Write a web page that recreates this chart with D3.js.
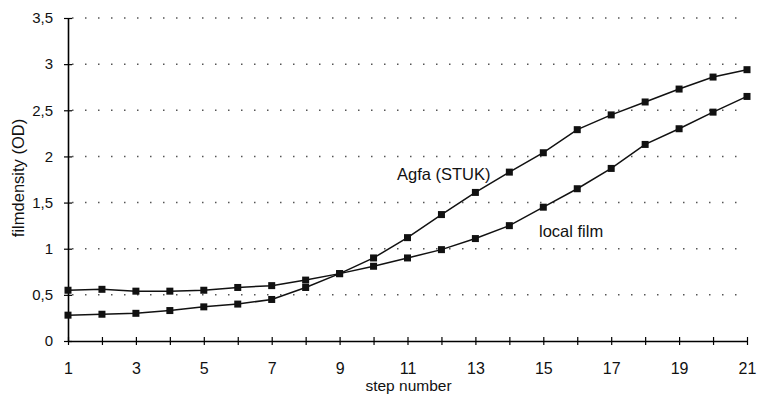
<!DOCTYPE html>
<html><head><meta charset="utf-8">
<script src="https://cdn.jsdelivr.net/npm/d3@7"></script>
<style>body{margin:0;background:#fff;}svg{display:block;font-family:Arial,"Liberation Sans",sans-serif;}</style>
</head><body>
<svg id="c" width="761" height="406"></svg>
<script>
const steps = d3.range(1, 22);
const agfa = [0.28,0.29,0.30,0.33,0.37,0.40,0.45,0.58,0.73,0.90,1.12,1.37,1.61,1.83,2.04,2.29,2.45,2.59,2.73,2.86,2.94];
const localFilm = [0.55,0.56,0.54,0.54,0.55,0.58,0.60,0.66,0.73,0.81,0.90,0.99,1.11,1.25,1.45,1.65,1.87,2.13,2.30,2.48,2.65];
const yTicks = [0,0.5,1,1.5,2,2.5,3,3.5];
const xTickLabels = [1,3,5,7,9,11,13,15,17,19,21];
const seriesNames = ["Agfa (STUK)","local film"];

const svg = d3.select("#c");
const m = {left:68, right:14, top:18, bottom:65};
const W = 761, H = 406;
const x = d3.scaleLinear().domain([1,21]).range([m.left, W - m.right]);
const y = d3.scaleLinear().domain([0,3.5]).range([H - m.bottom, m.top]);

// gridlines
svg.append("g").selectAll("line").data(yTicks.filter(d=>d>0)).join("line")
  .attr("x1", x(1)+4).attr("x2", x(21)).attr("y1", d=>y(d)).attr("y2", d=>y(d))
  .attr("stroke","#555").attr("stroke-width",1.5).attr("stroke-dasharray","1.5,11.5");

// y axis
const yAxis = d3.axisLeft(y).tickValues(yTicks).tickSize(0).tickPadding(15)
  .tickFormat(d=>String(d).replace(".",","));
const gy = svg.append("g").attr("transform",`translate(${x(1)},0)`).call(yAxis);
gy.select(".domain").attr("stroke","#000").attr("stroke-width",1.6);
gy.selectAll("text").attr("font-size",15).attr("fill","#111");
gy.selectAll(".tick").append("line").attr("x1",-4).attr("x2",4).attr("stroke","#000").attr("stroke-width",1.2);

// x axis
const xAxis = d3.axisBottom(x).tickValues(steps).tickSize(0).tickPadding(22)
  .tickFormat(d=>xTickLabels.includes(d)?d:"");
const gx = svg.append("g").attr("transform",`translate(0,${y(0)})`).call(xAxis);
gx.select(".domain").attr("stroke","#000").attr("stroke-width",1.6);
gx.selectAll("text").attr("font-size",16).attr("fill","#111");
gx.selectAll(".tick").append("line").attr("y1",-4).attr("y2",4).attr("stroke","#000").attr("stroke-width",1.2);

// titles
svg.append("text").attr("x", 408.5).attr("y", 391).attr("text-anchor","middle")
  .attr("font-size",15.5).attr("fill","#111").text("step number");
svg.append("text").attr("transform","translate(24,178) rotate(-90)").attr("text-anchor","middle")
  .attr("font-size",16.5).attr("fill","#111").text("filmdensity (OD)");

// lines
const line = d3.line().x((d,i)=>x(steps[i])).y(d=>y(d));
[agfa, localFilm].forEach(s=>{
  svg.append("path").attr("d", line(s)).attr("fill","none").attr("stroke","#111").attr("stroke-width",1.5);
  svg.append("g").selectAll("rect").data(s).join("rect")
    .attr("x",(d,i)=>x(steps[i])-3.5).attr("y",d=>y(d)-3.5).attr("width",7).attr("height",7).attr("fill","#111");
});

// series labels
svg.append("text").attr("x",397).attr("y",180).attr("font-size",16.5).attr("fill","#111").text(seriesNames[0]);
svg.append("text").attr("x",539).attr("y",237).attr("font-size",16.5).attr("fill","#111").text(seriesNames[1]);
</script>
</body></html>
